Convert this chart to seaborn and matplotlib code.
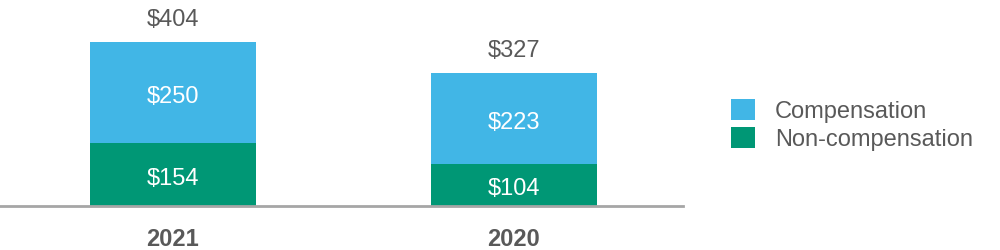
import matplotlib
matplotlib.use("Agg")
import matplotlib.pyplot as plt
from matplotlib.patches import Patch
import seaborn as sns
import pandas as pd

years = ["2021", "2020"]
compensation = [250, 223]
non_compensation = [154, 104]
totals = [c + n for c, n in zip(compensation, non_compensation)]

BLUE = "#41B6E6"
GREEN = "#009775"
GRAY_TXT = "#595959"

sns.set_theme(style="white")
plt.rcParams["font.family"] = ["Liberation Sans", "DejaVu Sans"]

df = pd.DataFrame({"year": years, "comp": compensation, "noncomp": non_compensation, "total": totals})

fig = plt.figure(figsize=(10, 2.5), dpi=100)
ax = fig.add_axes([0.0, 0.176, 0.683, 0.824])

sns.barplot(data=df, x="year", y="total", color=BLUE, width=0.487, saturation=1,
            linewidth=0, edgecolor="none", ax=ax)
sns.barplot(data=df, x="year", y="noncomp", color=GREEN, width=0.487, saturation=1,
            linewidth=0, edgecolor="none", ax=ax)

ax.set_xlim(-0.507, 1.496)
ax.set_ylim(0, 507)
for s in ["top", "right", "left"]:
    ax.spines[s].set_visible(False)
ax.spines["bottom"].set_color("#A6A6A6")
ax.spines["bottom"].set_linewidth(2)
ax.set_yticks([])
ax.set_xlabel("")
ax.set_ylabel("")
ax.tick_params(axis="x", length=0, pad=16)
ax.set_xticks(range(len(years)))
ax.set_xticklabels(years, fontsize=17, fontweight="bold", color=GRAY_TXT)

for i in range(len(years)):
    n = non_compensation[i]
    c = compensation[i]
    t = totals[i]
    ax.annotate(f"${n}", xy=(i, n / 2), xytext=(0, -3), textcoords="offset points",
                ha="center", va="center", color="white", fontsize=17)
    ax.annotate(f"${c}", xy=(i, n + c / 2), xytext=(0, -3), textcoords="offset points",
                ha="center", va="center", color="white", fontsize=17)
    ax.annotate(f"${t}", xy=(i, t), xytext=(0, 8), textcoords="offset points",
                ha="center", va="bottom", color=GRAY_TXT, fontsize=17)

handles = [Patch(facecolor=BLUE, edgecolor="none", label="Compensation"),
           Patch(facecolor=GREEN, edgecolor="none", label="Non-compensation")]
leg = fig.legend(handles=handles, loc="center left", bbox_to_anchor=(0.731, 0.5),
                 frameon=False, fontsize=17, handlelength=1.0, handleheight=1.0,
                 handletextpad=0.85, labelspacing=0.2, borderpad=0, borderaxespad=0)
for txt in leg.get_texts():
    txt.set_color(GRAY_TXT)

fig.savefig("out.png", dpi=100)
